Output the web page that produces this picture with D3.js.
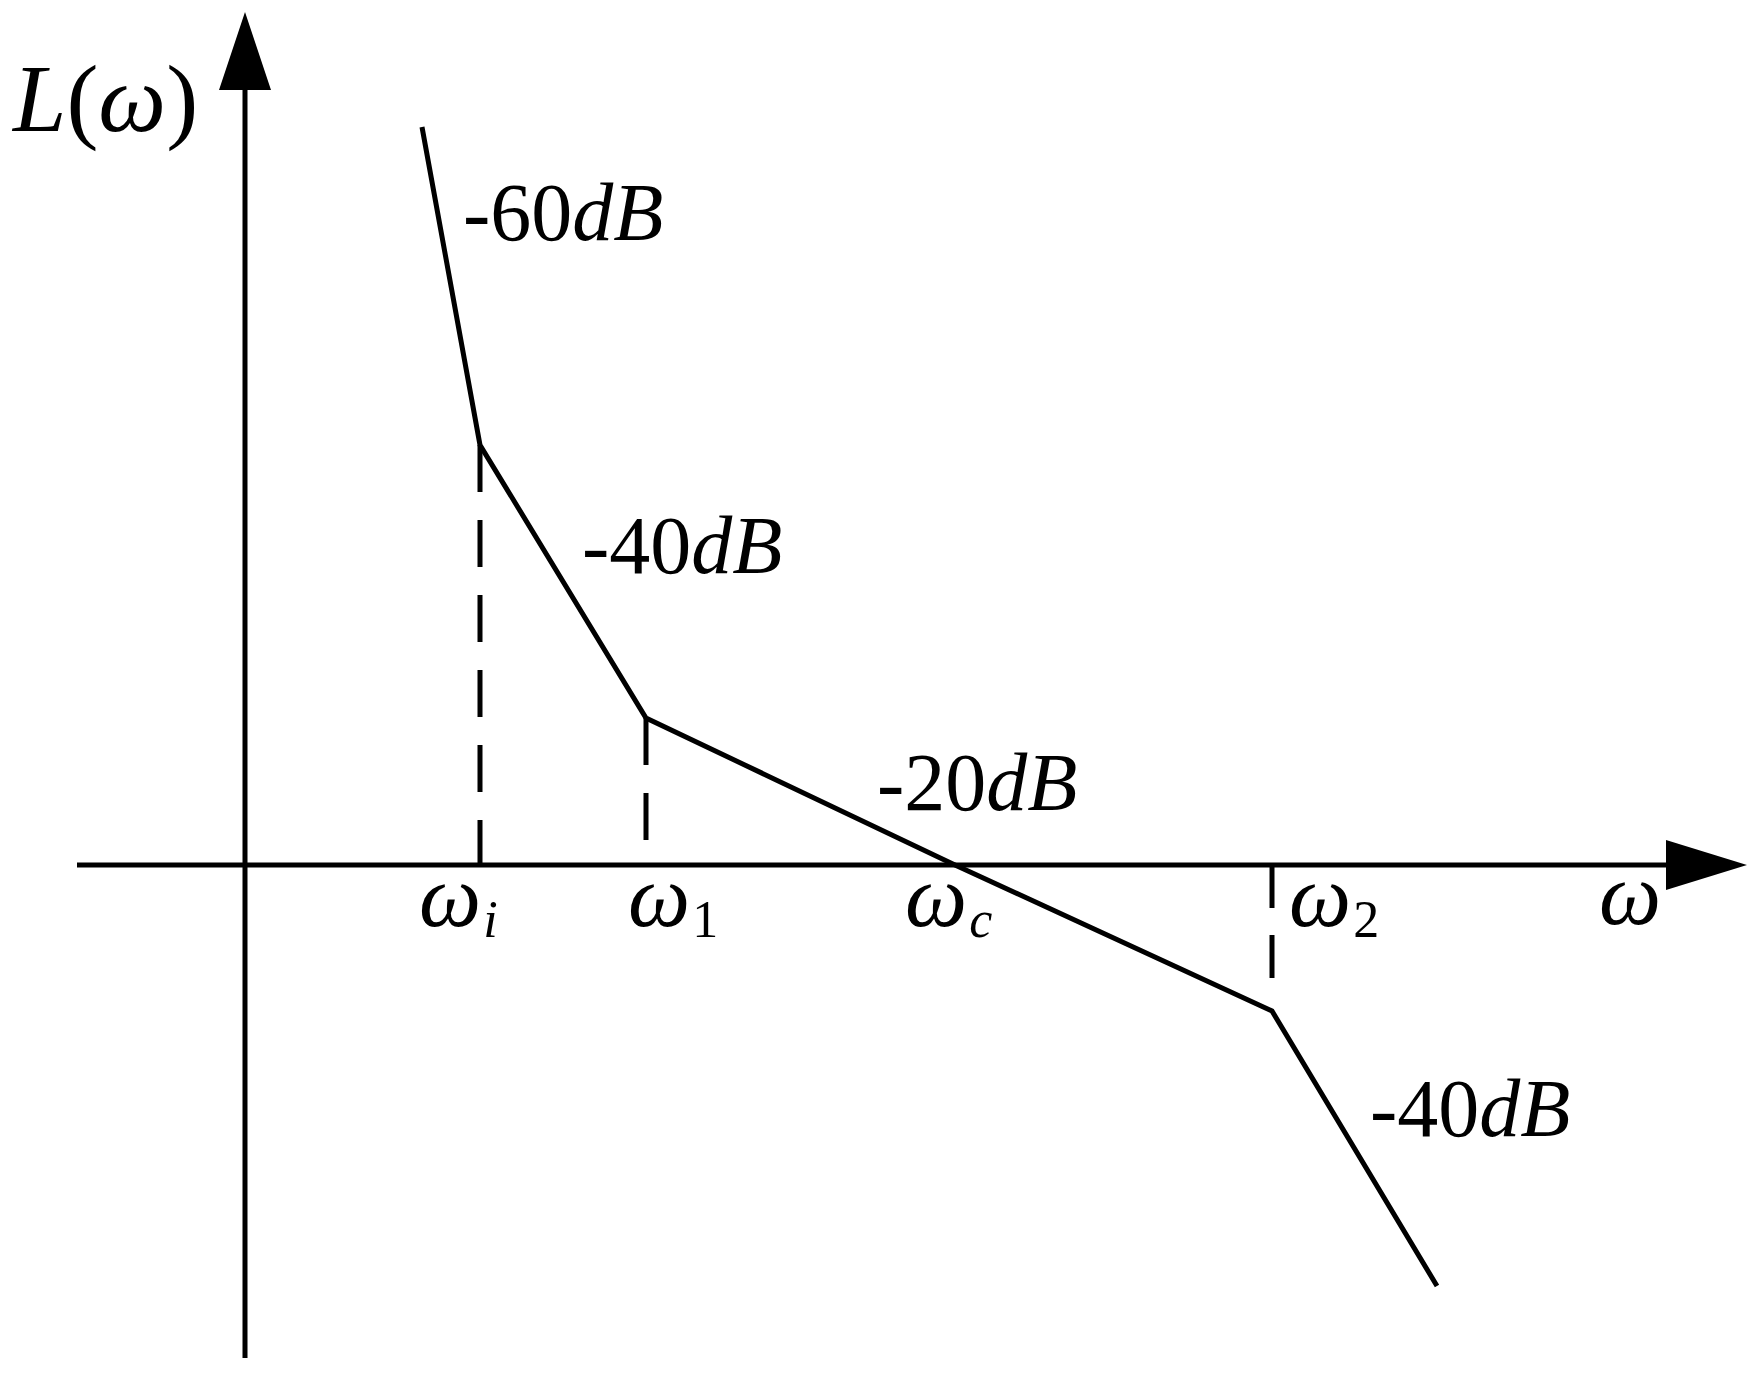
<!DOCTYPE html>
<html>
<head>
<meta charset="utf-8">
<script src="https://cdn.jsdelivr.net/npm/d3@7"></script>
<style>
    body { margin: 0; background: #fff; }
    svg text { font-family: "Liberation Serif", "Times New Roman", serif; fill: #000; }
</style>
</head>
<body>
<svg id="bode-svg" width="1758" height="1374"></svg>
<script>
// asymptotic magnitude curve, x = log-frequency units, y = L(ω) units
const curveW = [17.7, 23.5, 40.1, 71, 102.7, 119.2];
const curveL = [73.8, 42, 14.7, 0, -14.6, -42.1];

// break frequencies on the ω axis
const breakNames = ["ω", "ω", "ω", "ω"];
const breakSubs = ["i", "1", "c", "2"];
const breakSubItalic = [true, false, true, false];
const breakW = [23.5, 40.1, 71, 102.7];

// dashed drop lines (from / to, in L units)
const dropW = [23.5, 40.1, 102.7];
const dropFrom = [42, 14.7, 0];
const dropTo = [0, 2.5, -11.7];

// slope labels
const slopeNums = ["-60", "-40", "-20", "-40"];
const slopeUnit = ["dB", "dB", "dB", "dB"];
const slopeW = [21.8, 33.7, 63.2, 112.5];
const slopeL = [62.5, 29.2, 5.5, -27.1];

// axis extents
const axisW = [-16.8, 150.2];
const axisL = [-49.3, 85.3];

const svg = d3.select("#bode-svg");

const x = d3.scaleLinear().domain([0, 100]).range([245, 1245]);
const y = d3.scaleLinear().domain([0, 100]).range([865, -135]);

// axes
svg.append("line")
    .attr("x1", x(axisW[0])).attr("y1", y(0))
    .attr("x2", x(axisW[1]) - 20).attr("y2", y(0))
    .attr("stroke", "#000")
    .attr("stroke-width", 5);

svg.append("line")
    .attr("x1", x(0)).attr("y1", y(axisL[0]))
    .attr("x2", x(0)).attr("y2", y(axisL[1]) + 20)
    .attr("stroke", "#000")
    .attr("stroke-width", 5);

// arrow heads
const tipX = x(axisW[1]), tipY = y(axisL[1]);
svg.append("path")
    .attr("d", `M${tipX},${y(0)} L${tipX - 81},${y(0) - 25} L${tipX - 81},${y(0) + 25} Z`)
    .attr("fill", "#000");
svg.append("path")
    .attr("d", `M${x(0)},${tipY} L${x(0) - 26},${tipY + 78} L${x(0) + 26},${tipY + 78} Z`)
    .attr("fill", "#000");

// dashed drop lines
svg.selectAll(".drop")
    .data(dropW)
    .enter()
    .append("line")
    .attr("class", "drop")
    .attr("x1", d => x(d))
    .attr("x2", d => x(d))
    .attr("y1", (d, i) => y(dropFrom[i]))
    .attr("y2", (d, i) => y(dropTo[i]))
    .attr("stroke", "#000")
    .attr("stroke-width", 5)
    .attr("stroke-dasharray", (d, i) => i === 2 ? "43 27" : "47 28");

// curve
const points = curveW.map((w, i) => [w, curveL[i]]);
const line = d3.line().x(d => x(d[0])).y(d => y(d[1]));

svg.append("path")
    .datum(points)
    .attr("d", line)
    .attr("fill", "none")
    .attr("stroke", "#000")
    .attr("stroke-width", 5)
    .attr("stroke-linejoin", "miter");

// L(ω) label
const yLabel = svg.append("text")
    .attr("x", 13)
    .attr("y", 131)
    .attr("font-size", 96);
yLabel.append("tspan").attr("font-style", "italic").text("L");
yLabel.append("tspan").text("(");
yLabel.append("tspan").attr("font-style", "italic").text("ω");
yLabel.append("tspan").text(")");

// ω axis label
svg.append("text")
    .attr("x", tipX - 148)
    .attr("y", y(0) + 59)
    .attr("font-size", 88)
    .attr("font-style", "italic")
    .text("ω");

// break frequency labels
const breakDx = [-61, -18, -50, 17];
breakW.forEach((w, i) => {
    const t = svg.append("text")
        .attr("x", x(w) + breakDx[i])
        .attr("y", y(0) + 61)
        .attr("font-size", 88);
    t.append("tspan").attr("font-style", "italic").text(breakNames[i]);
    t.append("tspan")
        .attr("font-size", 52)
        .attr("dy", 11)
        .attr("dx", 2)
        .attr("font-style", breakSubItalic[i] ? "italic" : "normal")
        .text(breakSubs[i]);
});

// slope labels
slopeNums.forEach((n, i) => {
    const t = svg.append("text")
        .attr("x", x(slopeW[i]))
        .attr("y", y(slopeL[i]))
        .attr("font-size", 82);
    t.append("tspan").text(n);
    t.append("tspan").attr("font-style", "italic").text(slopeUnit[i]);
});
</script>
</body>
</html>
